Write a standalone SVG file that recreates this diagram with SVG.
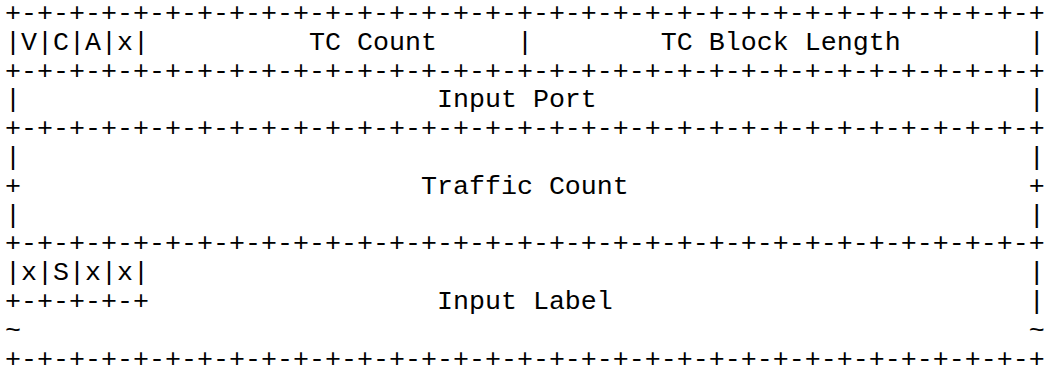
<svg xmlns="http://www.w3.org/2000/svg" width="1049" height="369" viewBox="0 0 1049 369">
<style>
text { font-family: "Liberation Mono", "Courier New", monospace; font-size: 26.667px; fill: #000; white-space: pre; }
</style>
<rect width="1049" height="369" fill="#fff"/>
<g id="connectors">
<text x="5" y="21" xml:space="preserve">+-+-+-+-+-+-+-+-+-+-+-+-+-+-+-+-+-+-+-+-+-+-+-+-+-+-+-+-+-+-+-+-+</text>
<text x="5" y="78.6" xml:space="preserve">+-+-+-+-+-+-+-+-+-+-+-+-+-+-+-+-+-+-+-+-+-+-+-+-+-+-+-+-+-+-+-+-+</text>
<text x="5" y="136.2" xml:space="preserve">+-+-+-+-+-+-+-+-+-+-+-+-+-+-+-+-+-+-+-+-+-+-+-+-+-+-+-+-+-+-+-+-+</text>
<text x="5" y="251.4" xml:space="preserve">+-+-+-+-+-+-+-+-+-+-+-+-+-+-+-+-+-+-+-+-+-+-+-+-+-+-+-+-+-+-+-+-+</text>
<text x="5" y="366.6" xml:space="preserve">+-+-+-+-+-+-+-+-+-+-+-+-+-+-+-+-+-+-+-+-+-+-+-+-+-+-+-+-+-+-+-+-+</text>
</g>
<g id="header-row">
<text x="5" y="49.8" xml:space="preserve">|V|C|A|x|          TC Count     |        TC Block Length        |</text>
</g>
<g id="input-port">
<text x="5" y="107.4" xml:space="preserve">|                          Input Port                           |</text>
</g>
<g id="traffic-count">
<text x="5" y="165" xml:space="preserve">|                                                               |</text>
<text x="5" y="193.8" xml:space="preserve">+                         Traffic Count                         +</text>
<text x="5" y="222.6" xml:space="preserve">|                                                               |</text>
</g>
<g id="input-label">
<text x="5" y="280.2" xml:space="preserve">|x|S|x|x|                                                       |</text>
<text x="5" y="309" xml:space="preserve">+-+-+-+-+                  Input Label                          |</text>
<text x="5" y="337.8" xml:space="preserve">~                                                               ~</text>
</g>
</svg>
